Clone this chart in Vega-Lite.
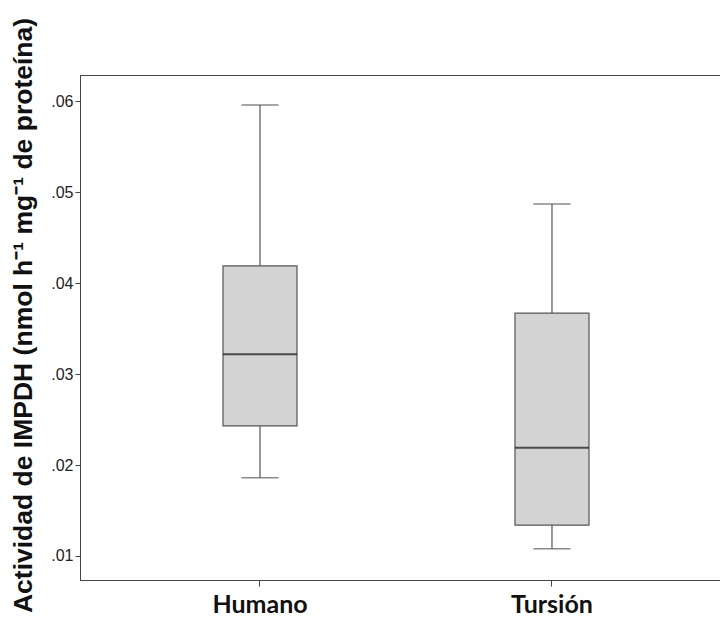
{
  "$schema": "https://vega.github.io/schema/vega-lite/v6.json",
  "autosize": "none",
  "padding": {"left": 80, "top": 75, "right": 0, "bottom": 39},
  "width": 640,
  "height": 505,
  "background": "white",
  "config": {
    "view": {"stroke": "#444", "strokeWidth": 1},
    "axis": {"grid": false}
  },
  "data": {
    "values": [
      {"grupo": "Humano", "min": 0.0186, "q1": 0.0243, "mediana": 0.0322, "q3": 0.0419, "max": 0.0596},
      {"grupo": "Tursión", "min": 0.0108, "q1": 0.0134, "mediana": 0.0219, "q3": 0.0367, "max": 0.0487}
    ]
  },
  "encoding": {
    "x": {
      "field": "grupo",
      "type": "nominal",
      "sort": ["Humano", "Tursión"],
      "scale": {"paddingInner": 0, "paddingOuter": 0.0959, "align": 0.607},
      "axis": {
        "title": null,
        "labelAngle": 0,
        "labelFont": "Lato",
        "labelFontWeight": "bold",
        "labelFontSize": 25,
        "labelColor": "#111",
        "labelPadding": 6,
        "tickSize": 6,
        "tickColor": "#444",
        "domainColor": "#444"
      }
    }
  },
  "layer": [
    {
      "mark": {"type": "rule", "color": "#555", "strokeWidth": 1.2},
      "encoding": {
        "y": {
          "field": "min",
          "type": "quantitative",
          "scale": {"domain": [0.00736, 0.0629], "nice": false, "zero": false},
          "axis": {
            "title": "Actividad de IMPDH (nmol h⁻¹ mg⁻¹ de proteína)",
            "titleFont": "Liberation Sans",
            "titleFontWeight": "bold",
            "titleFontSize": 26.5,
            "titleColor": "#111",
            "titlePadding": 13,
            "titleY": 240,
            "values": [0.01, 0.02, 0.03, 0.04, 0.05, 0.06],
            "labelExpr": "substring(format(datum.value, '.2f'), 1)",
            "labelFont": "Liberation Sans",
            "labelFontSize": 16,
            "labelColor": "#222",
            "labelPadding": 2,
            "tickSize": 5,
            "tickColor": "#444",
            "domainColor": "#444"
          }
        },
        "y2": {"field": "max"}
      }
    },
    {
      "mark": {"type": "bar", "size": 74, "fill": "#d3d3d3", "stroke": "#555", "strokeWidth": 1.2},
      "encoding": {
        "y": {"field": "q1", "type": "quantitative"},
        "y2": {"field": "q3"}
      }
    },
    {
      "mark": {"type": "tick", "size": 74, "thickness": 2, "color": "#111"},
      "encoding": {
        "y": {"field": "mediana", "type": "quantitative"}
      }
    },
    {
      "mark": {"type": "tick", "size": 37, "thickness": 1.5, "color": "#555"},
      "encoding": {
        "y": {"field": "min", "type": "quantitative"}
      }
    },
    {
      "mark": {"type": "tick", "size": 37, "thickness": 1.5, "color": "#555"},
      "encoding": {
        "y": {"field": "max", "type": "quantitative"}
      }
    }
  ]
}
